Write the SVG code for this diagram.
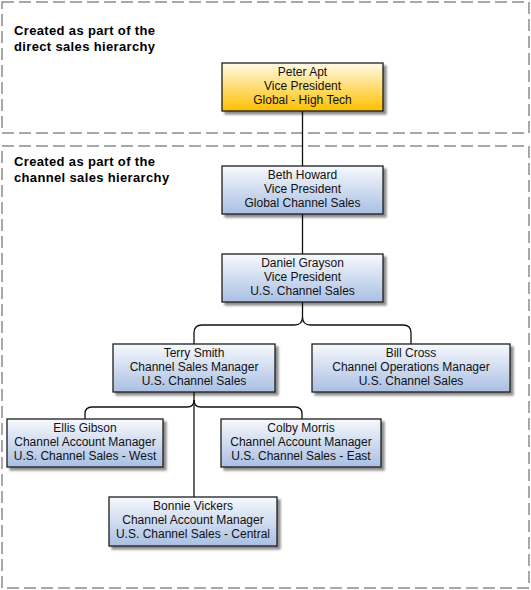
<svg xmlns="http://www.w3.org/2000/svg" width="531" height="590" viewBox="0 0 531 590">
<defs>
<linearGradient id="gBlue" x1="0" y1="0" x2="0" y2="1">
<stop offset="0" stop-color="#f7f9fd"/>
<stop offset="1" stop-color="#a9bfe3"/>
</linearGradient>
<linearGradient id="gGold" x1="0" y1="0" x2="0" y2="1">
<stop offset="0" stop-color="#fffbe8"/>
<stop offset="1" stop-color="#ffbf00"/>
</linearGradient>
<filter id="sh" x="-10%" y="-10%" width="130%" height="140%">
<feGaussianBlur in="SourceAlpha" stdDeviation="1.2"/>
<feOffset dx="2.5" dy="2.5" result="b"/>
<feComponentTransfer><feFuncA type="linear" slope="0.45"/></feComponentTransfer>
<feMerge><feMergeNode/><feMergeNode in="SourceGraphic"/></feMerge>
</filter>
</defs>
<style>
.region{fill:none;stroke:#8c8c8c;stroke-width:1.5;stroke-dasharray:12 5}
.hdr{font-family:"Liberation Sans",Arial,sans-serif;font-size:13px;font-weight:bold;letter-spacing:0.35px;fill:#000}
.box{stroke:#1e1e1e;stroke-width:1.3}
.blue{fill:url(#gBlue)}
.gold{fill:url(#gGold)}
.t{font-family:"Liberation Sans",Arial,sans-serif;font-size:12px;fill:#111;text-anchor:middle}
.conn{fill:none;stroke:#111;stroke-width:1.3}
</style>
<rect width="531" height="590" fill="#fff"/>
<g id="region-direct">
<rect class="region" x="2" y="2" width="527" height="131"/>
<text class="hdr" x="14" y="35">Created as part of the</text>
<text class="hdr" x="14" y="51">direct sales hierarchy</text>
</g>
<g id="region-channel">
<rect class="region" x="2" y="146" width="527" height="442"/>
<text class="hdr" x="14" y="166">Created as part of the</text>
<text class="hdr" x="14" y="182">channel sales hierarchy</text>
</g>
<g id="connectors">
<path class="conn" d="M302.5 111 V166"/>
<path class="conn" d="M302.5 214 V254"/>
<path class="conn" d="M302.5 302 V317 Q302.5 325 294.5 325 H202 Q194 325 194 333 V344"/>
<path class="conn" d="M302.5 317 Q302.5 325 310.5 325 H403 Q411 325 411 333 V344"/>
<path class="conn" d="M194 392 V400 Q194 407 187 407 H92 Q85 407 85 414 V419"/>
<path class="conn" d="M194 400 Q194 407 201 407 H295 Q302 407 302 414 V419"/>
<path class="conn" d="M194 400 V497"/>
</g>
<g id="peter-apt">
<rect class="box gold" filter="url(#sh)" x="222" y="63" width="161" height="48"/>
<text class="t" x="302.5" y="76">Peter Apt</text>
<text class="t" x="302.5" y="90">Vice President</text>
<text class="t" x="302.5" y="104">Global - High Tech</text>
</g>
<g id="beth-howard">
<rect class="box blue" filter="url(#sh)" x="222" y="166" width="161" height="48"/>
<text class="t" x="302.5" y="179">Beth Howard</text>
<text class="t" x="302.5" y="193">Vice President</text>
<text class="t" x="302.5" y="207">Global Channel Sales</text>
</g>
<g id="daniel-grayson">
<rect class="box blue" filter="url(#sh)" x="222" y="254" width="161" height="48"/>
<text class="t" x="302.5" y="267">Daniel Grayson</text>
<text class="t" x="302.5" y="281">Vice President</text>
<text class="t" x="302.5" y="295">U.S. Channel Sales</text>
</g>
<g id="terry-smith">
<rect class="box blue" filter="url(#sh)" x="113" y="344" width="162" height="48"/>
<text class="t" x="194" y="357">Terry Smith</text>
<text class="t" x="194" y="371">Channel Sales Manager</text>
<text class="t" x="194" y="385">U.S. Channel Sales</text>
</g>
<g id="bill-cross">
<rect class="box blue" filter="url(#sh)" x="312" y="344" width="198" height="48"/>
<text class="t" x="411" y="357">Bill Cross</text>
<text class="t" x="411" y="371">Channel Operations Manager</text>
<text class="t" x="411" y="385">U.S. Channel Sales</text>
</g>
<g id="ellis-gibson">
<rect class="box blue" filter="url(#sh)" x="7" y="419" width="156" height="48"/>
<text class="t" x="85" y="432">Ellis Gibson</text>
<text class="t" x="85" y="446">Channel Account Manager</text>
<text class="t" x="85" y="460">U.S. Channel Sales - West</text>
</g>
<g id="colby-morris">
<rect class="box blue" filter="url(#sh)" x="221" y="419" width="160" height="48"/>
<text class="t" x="301" y="432">Colby Morris</text>
<text class="t" x="301" y="446">Channel Account Manager</text>
<text class="t" x="301" y="460">U.S. Channel Sales - East</text>
</g>
<g id="bonnie-vickers">
<rect class="box blue" filter="url(#sh)" x="109" y="497" width="168" height="49"/>
<text class="t" x="193" y="510">Bonnie Vickers</text>
<text class="t" x="193" y="524">Channel Account Manager</text>
<text class="t" x="193" y="538">U.S. Channel Sales - Central</text>
</g>
</svg>
